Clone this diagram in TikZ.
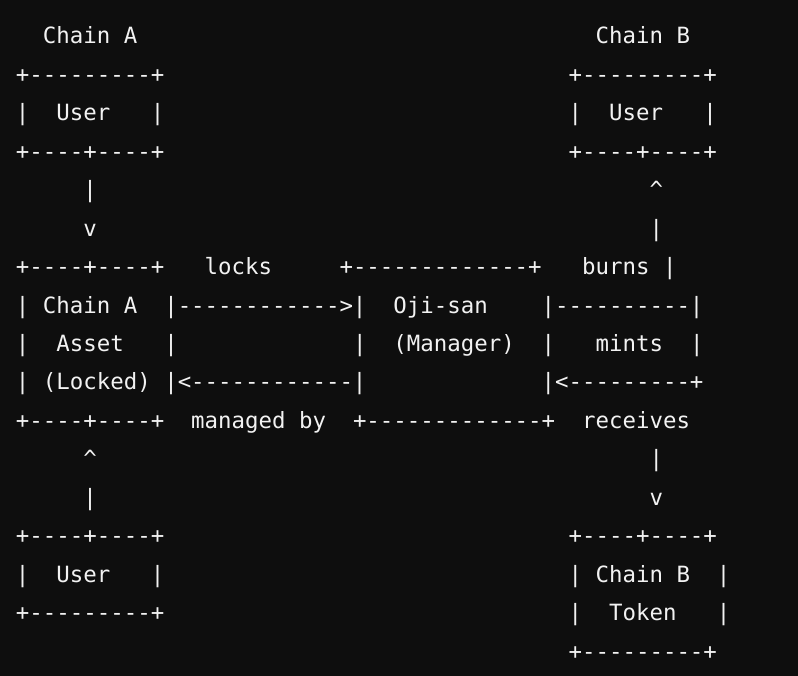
\documentclass[tikz,border=0pt]{standalone}
\usepackage{fontspec}
\setmonofont{DejaVu Sans Mono}
\usetikzlibrary{positioning}
\definecolor{termbg}{RGB}{14,14,14}
\definecolor{termfg}{RGB}{242,242,242}
\tikzset{ascii/.style={anchor=base west, inner sep=0pt, outer sep=0pt, text=termfg,
  font=\ttfamily\fontsize{22.39pt}{26pt}\selectfont}}

\begin{document}
\begin{tikzpicture}[x=13.48pt, y=-38.44pt]
	\fill[termbg] (-16pt,5.56pt) rectangle (782pt,-670.44pt);
	\useasboundingbox (-16pt,5.56pt) rectangle (782pt,-670.44pt);

	\node (titleA) [ascii] at (2,1) {Chain A};
	\node (titleB) [ascii] at (43,1) {Chain B};

	\node (userAtop) [ascii] at (0,2) {+---------+};
	\node (userAl) [ascii] at (0,3) {|};
	\node (userA) [ascii] at (3,3) {User};
	\node (userAr) [ascii] at (10,3) {|};
	\node (userAbot) [ascii] at (0,4) {+----+----+};

	\node (userBtop) [ascii] at (41,2) {+---------+};
	\node (userBl) [ascii] at (41,3) {|};
	\node (userB) [ascii] at (44,3) {User};
	\node (userBr) [ascii] at (51,3) {|};
	\node (userBbot) [ascii] at (41,4) {+----+----+};

	\node (downA1) [ascii] at (5,5) {|};
	\node (downA2) [ascii] at (5,6) {v};
	\node (upB1) [ascii] at (47,5) {\textasciicircum};
	\node (upB2) [ascii] at (47,6) {|};

	\node (assetTop) [ascii] at (0,7) {+----+----+};
	\node (locks) [ascii] at (14,7) {locks};
	\node (ojiTop) [ascii] at (24,7) {+-------------+};
	\node (burns) [ascii] at (42,7) {burns};
	\node (burnsBar) [ascii] at (48,7) {|};

	\node (assetL1) [ascii] at (0,8) {|};
	\node (asset1) [ascii] at (2,8) {Chain A};
	\node (locksArrow) [ascii] at (11,8) {|------------>|};
	\node (oji1) [ascii] at (28,8) {Oji-san};
	\node (burnsLine) [ascii] at (39,8) {|----------|};

	\node (assetL2) [ascii] at (0,9) {|};
	\node (asset2) [ascii] at (3,9) {Asset};
	\node (assetR2) [ascii] at (11,9) {|};
	\node (ojiL2) [ascii] at (25,9) {|};
	\node (oji2) [ascii] at (28,9) {(Manager)};
	\node (ojiR2) [ascii] at (39,9) {|};
	\node (mints) [ascii] at (43,9) {mints};
	\node (mintsBar) [ascii] at (50,9) {|};

	\node (assetL3) [ascii] at (0,10) {|};
	\node (asset3) [ascii] at (2,10) {(Locked)};
	\node (managedArrow) [ascii] at (11,10) {|<------------|};
	\node (receivesArrow) [ascii] at (39,10) {|<---------+};

	\node (assetBot) [ascii] at (0,11) {+----+----+};
	\node (managed) [ascii] at (13,11) {managed by};
	\node (ojiBot) [ascii] at (25,11) {+-------------+};
	\node (receives) [ascii] at (42,11) {receives};

	\node (upA1) [ascii] at (5,12) {\textasciicircum};
	\node (upA2) [ascii] at (5,13) {|};
	\node (downB1) [ascii] at (47,12) {|};
	\node (downB2) [ascii] at (47,13) {v};

	\node (ownerAtop) [ascii] at (0,14) {+----+----+};
	\node (ownerAl) [ascii] at (0,15) {|};
	\node (ownerA) [ascii] at (3,15) {User};
	\node (ownerAr) [ascii] at (10,15) {|};
	\node (ownerAbot) [ascii] at (0,16) {+---------+};

	\node (tokenTop) [ascii] at (41,14) {+----+----+};
	\node (tokenL1) [ascii] at (41,15) {|};
	\node (token1) [ascii] at (43,15) {Chain B};
	\node (tokenR1) [ascii] at (52,15) {|};
	\node (tokenL2) [ascii] at (41,16) {|};
	\node (token2) [ascii] at (44,16) {Token};
	\node (tokenR2) [ascii] at (52,16) {|};
	\node (tokenBot) [ascii] at (41,17) {+---------+};
\end{tikzpicture}
\end{document}
